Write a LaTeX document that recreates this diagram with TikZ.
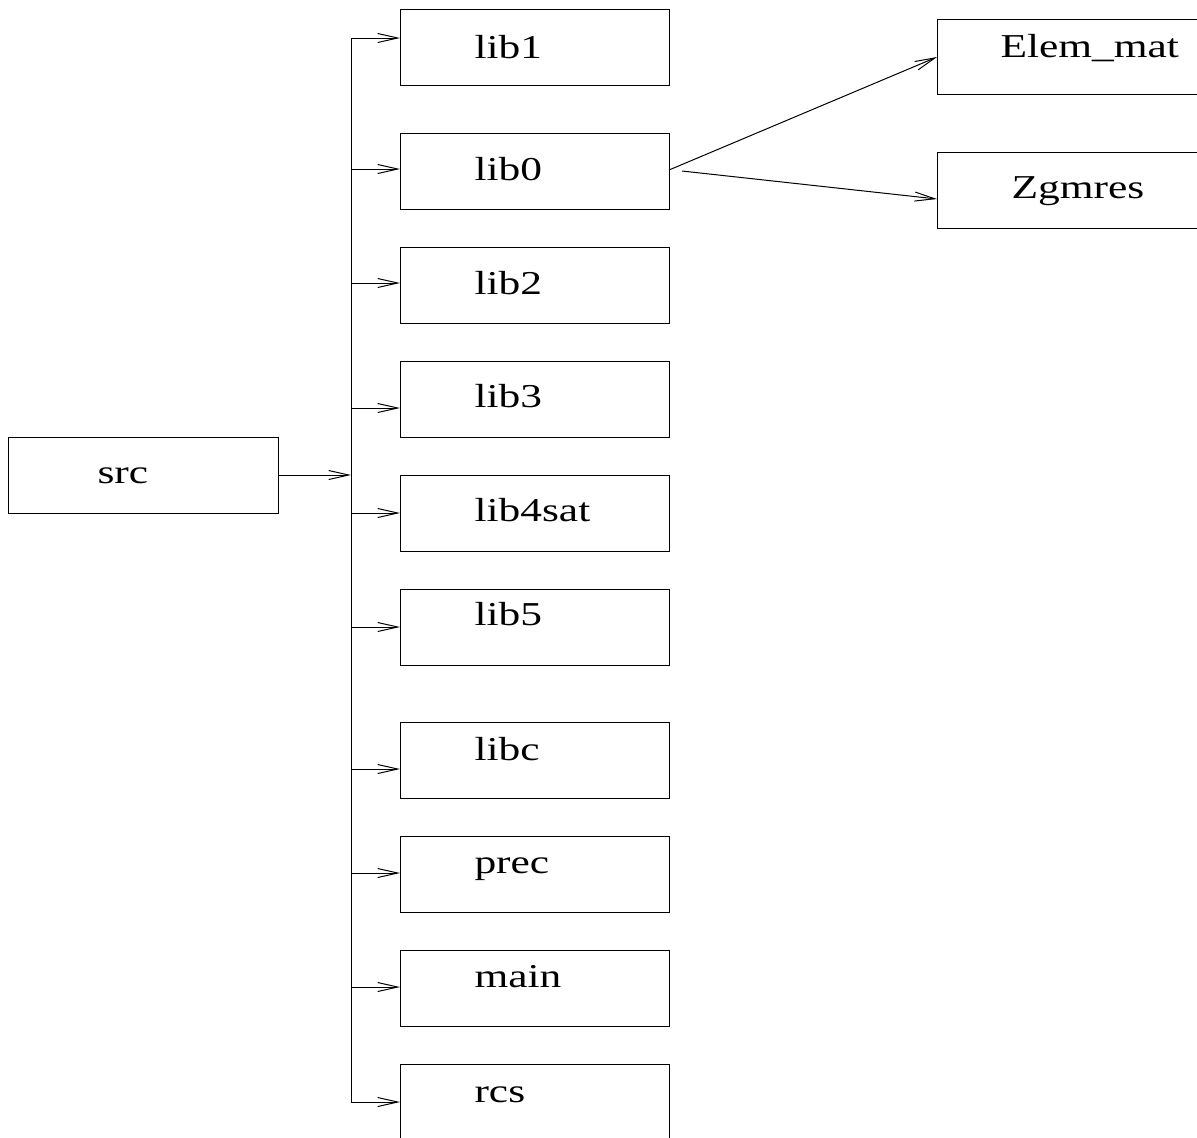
\documentclass[tikz,border=0pt]{standalone}
\usepackage{fontspec}
\setmainfont{Liberation Serif}
\usetikzlibrary{arrows.meta}
\begin{document}
\begin{tikzpicture}[x=0.5pt,y=-0.5pt,
  box/.style={draw, line width=0.65pt, inner sep=0pt, anchor=north west},
  lbl/.style={anchor=base west, inner sep=0pt, xscale=1.3, transform shape, font=\fontsize{16.7pt}{20pt}\selectfont},
  arr/.style={line width=0.5pt, -{Straight Barb[length=10pt,width=4.5pt,line width=0.5pt]}},
  wire/.style={line width=0.5pt}]
\useasboundingbox (0,0) rectangle (1197,1137);
\clip (0,0) rectangle (1197,1137);
% src
\node[box, minimum width=270pt*0.5, minimum height=76pt*0.5] (src) at (8,437) {};
\node[lbl] (tsrc) at (97,483) {src};
% column of boxes
\foreach \n/\t/\top/\base/\ay in {lib1/lib1/9/58/38, lib0/lib0/133/180/169, lib2/lib2/247/294/283, lib3/lib3/361/407/408, lib4sat/lib4sat/475/521/513, lib5/lib5/589/625/627, libc/libc/722/760/769, prec/prec/836/873/873, main/main/950/987/987, rcs/rcs/1064/1102/1102}{
  \node[box, minimum width=269pt*0.5, minimum height=76pt*0.5] (\n) at (400,\top) {};
  \node[lbl] (t\n) at (474,\base) {\t};
  \coordinate (b\n) at (351,\ay);
  \draw[arr] (b\n) -- (b\n -| \n.west);
}
\draw[wire] (blib1) -- (brcs);
\coordinate (bsrc) at (351,475);
\draw[arr] (src.east |- bsrc) -- (bsrc);
% right boxes
\node[box, minimum width=280pt*0.5, minimum height=75pt*0.5] (elem) at (937,19) {};
\node[lbl] (telem) at (1000,57) {Elem\_mat};
\node[box, minimum width=280pt*0.5, minimum height=76pt*0.5] (zg) at (937,152) {};
\node[lbl] (tzg) at (1011,198) {Zgmres};
\coordinate (s1) at (669,170);
\coordinate (s2) at (682,171);
\coordinate (e1) at (937,57);
\coordinate (e2) at (937,199);
\draw[arr] (s1) -- (e1 -| elem.west);
\draw[arr] (s2) -- (e2 -| zg.west);
\end{tikzpicture}
\end{document}
